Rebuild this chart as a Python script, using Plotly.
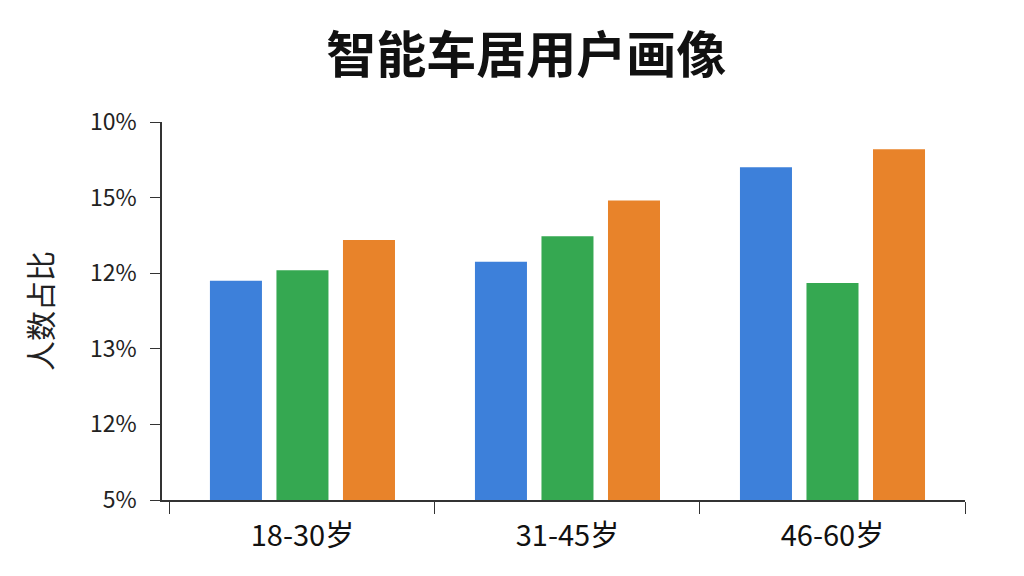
import plotly.graph_objects as go

age_groups = ['18-30岁', '31-45岁', '46-60岁']
series_names = ['蓝', '绿', '橙']
blue_values = [2.90, 3.15, 4.40]
green_values = [3.04, 3.49, 2.87]
orange_values = [3.44, 3.96, 4.64]
tick_positions = [0, 1, 2, 3, 4, 5]
tick_labels = ['5%', '12%', '13%', '12%', '15%', '10%']

colors = ['#3d80da', '#35a851', '#e8832a']
font_family = 'Noto Sans CJK SC'

fig = go.Figure()
for name, values, color in zip(series_names, [blue_values, green_values, orange_values], colors):
    fig.add_trace(go.Bar(x=age_groups, y=values, name=name, marker_color=color,
                         marker_line_width=0))

# page body has an 8px margin, so the figure is shifted by 8px on screen
fig.update_layout(
    width=1024, height=576,
    margin=dict(l=154, r=67, t=114, b=84),
    paper_bgcolor='white', plot_bgcolor='white',
    barmode='group', bargap=0.247, bargroupgap=0.218,
    showlegend=False,
    font=dict(family=font_family, color='#111111'),
    title=dict(text='<b>智能车居用户画像</b>', x=0.506, xanchor='center', y=0.918, yanchor='middle',
               font=dict(size=50, color='#111111', family=font_family)),
)
fig.update_yaxes(range=[0, 5], tickvals=tick_positions, ticktext=tick_labels,
                 showline=True, linecolor='#333333', linewidth=1.5,
                 ticks='outside', ticklen=10, tickcolor='#333333',
                 ticklabelstandoff=9,
                 showgrid=False, zeroline=False,
                 tickfont=dict(size=23, color='#222222'),
                 title=dict(text='人数占比', font=dict(size=30, color='#222222'), standoff=28))
# categories start a little right of the y axis, as in the original
fig.update_xaxes(range=[-0.53, 2.5],
                 showline=True, linecolor='#333333', linewidth=1.5,
                 ticks='outside', tickson='boundaries', ticklen=12, tickcolor='#333333',
                 ticklabelstandoff=9,
                 tickfont=dict(size=29, color='#111111'), showgrid=False)

fig.write_html('out.html')
